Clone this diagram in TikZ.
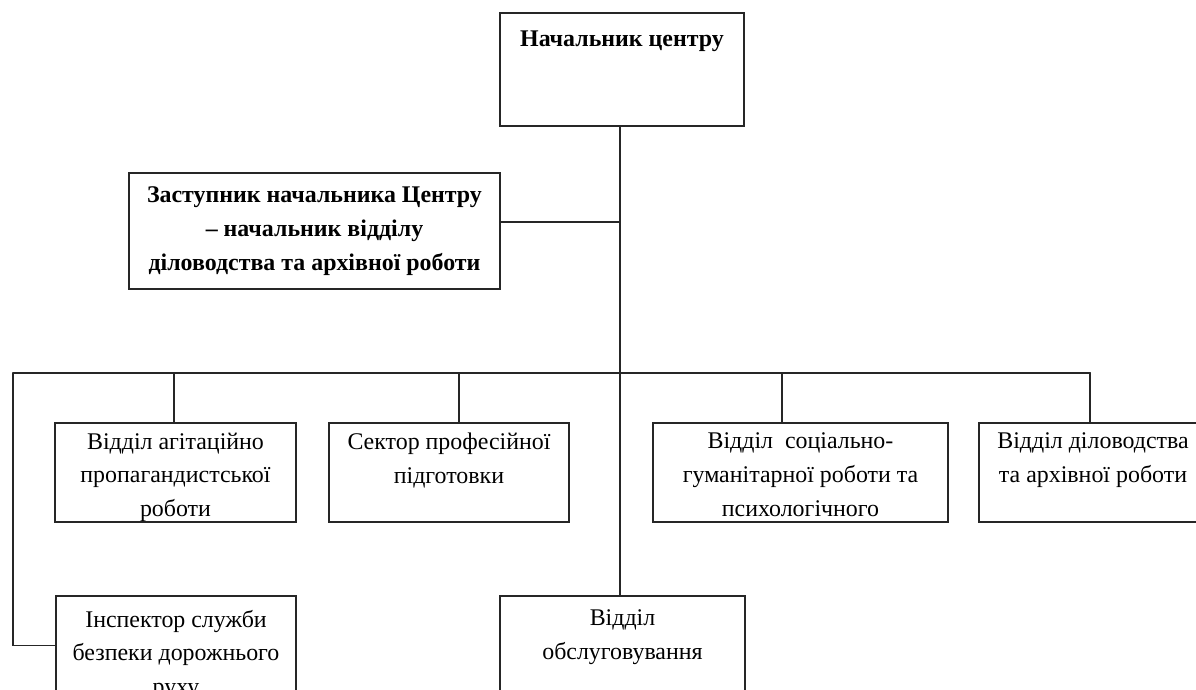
\documentclass[tikz,border=0pt]{standalone}
\usepackage{fontspec}
\setmainfont{Liberation Serif}
\usetikzlibrary{positioning, fit, calc}

\begin{document}
\begin{tikzpicture}[
            x={(0.025cm,0cm)},
            y={(0cm,-0.025cm)},
            line width=1.4pt,
            font=\fontsize{17}{24}\selectfont,
            unitbox/.style={draw=black!85, inner sep=0pt, fit={#1}},
            unittext/.style={align=center, inner sep=0pt, anchor=north},
            link/.style={draw=black!85, line cap=round}
        ]

            % --- Frame ---
            \useasboundingbox (0,0) rectangle (1196,690);
            \clip (0,0) rectangle (1196,690);

            % --- Boxes ---
            \node[unitbox={(500,13) (744,126)}] (head) {};
            \node[unitbox={(129,173) (500,289)}] (dep) {};

            \node[unitbox={(55,423) (296,522)}] (agit) {};
            \node[unitbox={(329,423) (569,522)}] (prof) {};
            \node[unitbox={(653,423) (948,522)}] (soc) {};
            \node[unitbox={(979,423) (1207,522)}] (arch) {};

            \node[unitbox={(56,596) (296,695)}] (insp) {};
            \node[unitbox={(500,596) (745,695)}] (serv) {};

            % --- Texts ---
            \node[unittext, below=13pt of head.north] {\bfseries Начальник центру};
            \node[align=center, font=\fontsize{17}{24}\selectfont\bfseries] at (dep.center)
                {Заступник начальника Центру\\– начальник відділу\\діловодства та архівної роботи};

            \node[unittext, below=7pt of agit.north] {Відділ агітаційно\\пропагандистської\\роботи};
            \node[unittext, below=7pt of prof.north] {Сектор професійної\\підготовки};
            \node[unittext, below=7pt of soc.north] {Відділ\ \ соціально-\\гуманітарної роботи та\\психологічного};
            \node[unittext, below=7pt of arch.north] {Відділ діловодства\\та архівної роботи};

            \node[unittext, below=10pt of insp.north] {Інспектор служби\\безпеки дорожнього\\руху};
            \node[unittext, below=10pt of serv.north] {Відділ\\обслуговування};

            % --- Bus coordinates ---
            \coordinate (busL) at (13,373);
            \coordinate (tAgit) at (174,373);
            \coordinate (tProf) at (459,373);
            \coordinate (tSoc) at (782,373);
            \coordinate (tArch) at (1090,373);
            \coordinate (trunk) at (620,126);
            \coordinate (depR) at ($(dep.north east)!0.42!(dep.south east)$);

            % --- Connectors ---
            \draw[link] (trunk) -- (trunk |- serv.north);
            \draw[link] (depR) -- (depR -| trunk);
            \draw[link] (busL) -- (tArch);
            \draw[link] (tAgit) -- (tAgit |- agit.north);
            \draw[link] (tProf) -- (tProf |- prof.north);
            \draw[link] (tSoc) -- (tSoc |- soc.north);
            \draw[link] (tArch) -- (tArch |- arch.north);
            \draw[link] (busL) |- (insp.west);

\end{tikzpicture}
\end{document}
